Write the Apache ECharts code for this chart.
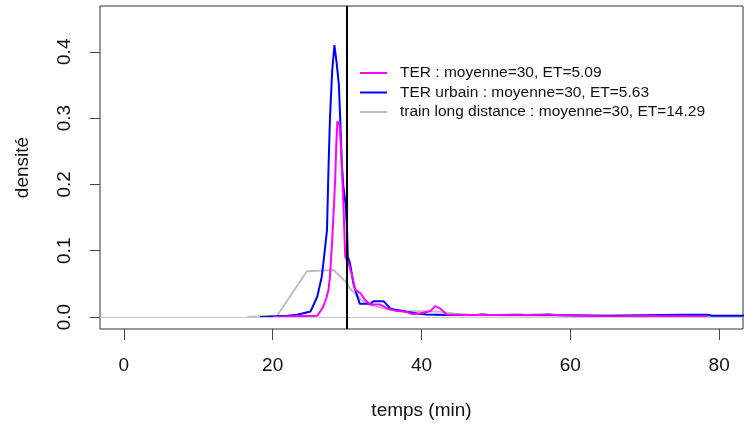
<!DOCTYPE html>
<html>
<head>
<meta charset="utf-8">
<script src="https://cdn.jsdelivr.net/npm/echarts@6/dist/echarts.min.js"></script>
<style>html,body{margin:0;padding:0;background:#fff;}#c{width:751px;height:426px;}</style>
</head>
<body>
<div id="c"></div>
<script>
// Legend / series names
var seriesNames = ['TER : moyenne=30, ET=5.09', 'TER urbain : moyenne=30, ET=5.63', 'train long distance : moyenne=30, ET=14.29'];
// Tick values
var xTicks = [0, 20, 40, 60, 80];
var yTicks = [0, 0.1, 0.2, 0.3, 0.4];
var meanLine = 30;
// TER (magenta)
var terX = [20.1, 22, 24, 26, 26.6, 26.8, 27.2, 27.5, 27.7, 28.0, 28.2, 28.4, 28.55, 28.7, 29.0, 29.2, 29.5, 29.75, 30.2, 30.7, 31.1, 31.8, 32.4, 33.1, 34.4, 35.4, 36.7, 38.0, 38.7, 39.8, 41.2, 41.8, 42.5, 43.4, 46, 50, 53, 54, 56.5, 57.3, 58, 64.9, 70, 78.5];
var terY = [0, 0.001, 0.0015, 0.002, 0.012, 0.016, 0.028, 0.041, 0.061, 0.116, 0.16, 0.207, 0.26, 0.295, 0.29, 0.252, 0.172, 0.091, 0.081, 0.061, 0.041, 0.036, 0.026, 0.019, 0.019, 0.013, 0.009, 0.008, 0.0045, 0.0055, 0.009, 0.0165, 0.013, 0.004, 0.003, 0.003, 0.004, 0.003, 0.004, 0.004, 0.003, 0.001, 0.0015, 0.001];
// TER urbain (blue)
var urbX = [18.3, 20, 22, 23.3, 25.1, 26.0, 26.6, 26.9, 27.1, 27.3, 27.5, 27.7, 28.0, 28.3, 28.5, 28.6, 28.9, 29.1, 29.3, 29.5, 29.8, 30.0, 30.1, 30.35, 30.9, 31.7, 33.1, 33.6, 34.9, 35.8, 36.7, 38.0, 39.4, 40.7, 43.4, 47.5, 48, 48.5, 49, 56.5, 57, 57.5, 65, 75, 78.5, 79, 84];
var urbY = [0, 0.001, 0.002, 0.0035, 0.0085, 0.031, 0.061, 0.09, 0.11, 0.131, 0.222, 0.30, 0.372, 0.41, 0.41, 0.383, 0.35, 0.292, 0.23, 0.197, 0.17, 0.131, 0.091, 0.083, 0.048, 0.020, 0.020, 0.024, 0.024, 0.013, 0.0105, 0.008, 0.0055, 0.004, 0.003, 0.003, 0.004, 0.004, 0.003, 0.003, 0.004, 0.003, 0.002, 0.0035, 0.0035, 0.002, 0.002];
// train long distance (gray)
var tldX = [16.6, 20.6, 24.6, 28.2, 30.0, 30.4, 31.3, 32.0, 33.1, 35.8, 38.0, 42.5, 44.5, 47, 55, 65, 75, 84];
var tldY = [0, 0.002, 0.069, 0.071, 0.051, 0.043, 0.033, 0.025, 0.018, 0.011, 0.009, 0.008, 0.005, 0.003, 0.0025, 0.002, 0.002, 0.002];

function pairs(xs, ys) { return xs.map(function (x, i) { return [x, ys[i]]; }); }

var font = 'Liberation Sans, Arial, sans-serif';
var axisFont = 19;
var legendFont = 15.5;
var chart = echarts.init(document.getElementById('c'), null, {renderer: 'canvas'});
chart.setOption({
  animation: false,
  backgroundColor: '#fff',
  grid: {left: 100, right: 8, top: 6, bottom: 97, show: true, borderColor: '#333', borderWidth: 1, backgroundColor: 'transparent'},
  legend: {
    orient: 'vertical', left: 360, top: 65, padding: 0, icon: 'rect', itemWidth: 27, itemHeight: 2, itemGap: 3.5,
    data: seriesNames,
    textStyle: {fontFamily: font, fontSize: legendFont, lineHeight: 16, color: '#111', padding: [0, 0, 0, 8]},
    selectedMode: false
  },
  xAxis: {
    type: 'value', min: -3.2, max: 83.2,
    name: 'temps (min)', nameLocation: 'middle', nameGap: 72,
    nameTextStyle: {fontFamily: font, fontSize: axisFont, color: '#111'},
    axisLine: {show: false, onZero: false},
    splitLine: {show: false},
    axisTick: {show: true, inside: false, length: 11, customValues: xTicks, lineStyle: {color: '#444'}},
    axisLabel: {customValues: xTicks, margin: 27, fontFamily: font, fontSize: axisFont, color: '#111'}
  },
  yAxis: {
    type: 'value', min: -0.018, max: 0.469,
    name: 'densité', nameLocation: 'middle', nameGap: 68, nameRotate: 90,
    nameTextStyle: {fontFamily: font, fontSize: axisFont, color: '#111'},
    axisLine: {show: false, onZero: false},
    splitLine: {show: false},
    axisTick: {show: true, inside: false, length: 10, customValues: yTicks, lineStyle: {color: '#444'}},
    axisLabel: {customValues: yTicks, rotate: 90, margin: 26, fontFamily: font, fontSize: axisFont, color: '#111',
      formatter: function (v) { return v.toFixed(1); }}
  },
  series: [
    {name: seriesNames[2], type: 'line', data: pairs(tldX, tldY), showSymbol: false, symbol: 'none',
      lineStyle: {color: '#BEBEBE', width: 2}, itemStyle: {color: '#BEBEBE'}, z: 2,
      markLine: {silent: true, symbol: 'none', label: {show: false}, animation: false,
        data: [{yAxis: 0, lineStyle: {color: '#C8C8C8', width: 1, type: 'solid'}}]}},
    {name: seriesNames[1], type: 'line', data: pairs(urbX, urbY), showSymbol: false, symbol: 'none',
      lineStyle: {color: '#0000FF', width: 2}, itemStyle: {color: '#0000FF'}, z: 3},
    {name: seriesNames[0], type: 'line', data: pairs(terX, terY), showSymbol: false, symbol: 'none',
      lineStyle: {color: '#FF00FF', width: 2}, itemStyle: {color: '#FF00FF'}, z: 4,
      markLine: {silent: true, symbol: 'none', label: {show: false}, animation: false,
        data: [{xAxis: meanLine, lineStyle: {color: '#000', width: 2, type: 'solid'}}]}}
  ]
});
</script>
</body>
</html>
